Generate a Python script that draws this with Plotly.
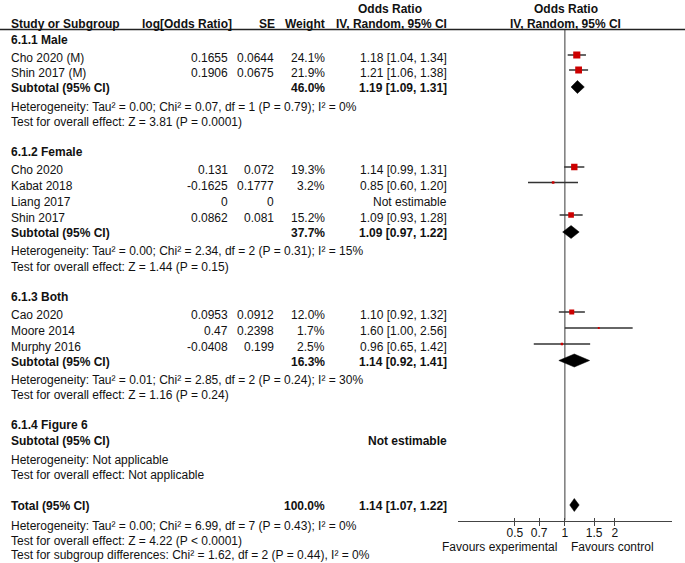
import plotly.graph_objects as go
import math

# ---------------- data ----------------
study_names = ["Cho 2020 (M)", "Shin 2017 (M)", "Cho 2020", "Kabat 2018", "Liang 2017",
               "Shin 2017", "Cao 2020", "Moore 2014", "Murphy 2016"]
study_group = [0, 0, 1, 1, 1, 1, 2, 2, 2]
log_or = [0.1655, 0.1906, 0.131, -0.1625, 0, 0.0862, 0.0953, 0.47, -0.0408]
se_vals = [0.0644, 0.0675, 0.072, 0.1777, 0, 0.081, 0.0912, 0.2398, 0.199]
weights = [24.1, 21.9, 19.3, 3.2, None, 15.2, 12.0, 1.7, 2.5]
or_est = [1.18, 1.21, 1.14, 0.85, None, 1.09, 1.10, 1.60, 0.96]
or_lo = [1.04, 1.06, 0.99, 0.60, None, 0.93, 0.92, 1.00, 0.65]
or_hi = [1.34, 1.38, 1.31, 1.20, None, 1.28, 1.32, 2.56, 1.42]

group_names = ["6.1.1 Male", "6.1.2 Female", "6.1.3 Both", "6.1.4 Figure 6"]
sub_weight = [46.0, 37.7, 16.3, None]
sub_est = [1.19, 1.09, 1.14, None]
sub_lo = [1.09, 0.97, 0.92, None]
sub_hi = [1.31, 1.22, 1.41, None]
sub_het = [
    "Heterogeneity: Tau² = 0.00; Chi² = 0.07, df = 1 (P = 0.79); I² = 0%",
    "Heterogeneity: Tau² = 0.00; Chi² = 2.34, df = 2 (P = 0.31); I² = 15%",
    "Heterogeneity: Tau² = 0.01; Chi² = 2.85, df = 2 (P = 0.24); I² = 30%",
    "Heterogeneity: Not applicable",
]
sub_test = [
    "Test for overall effect: Z = 3.81 (P = 0.0001)",
    "Test for overall effect: Z = 1.44 (P = 0.15)",
    "Test for overall effect: Z = 1.16 (P = 0.24)",
    "Test for overall effect: Not applicable",
]
total_weight = 100.0
total_est, total_lo, total_hi = 1.14, 1.07, 1.22
total_notes = [
    "Heterogeneity: Tau² = 0.00; Chi² = 6.99, df = 7 (P = 0.43); I² = 0%",
    "Test for overall effect: Z = 4.22 (P < 0.0001)",
    "Test for subgroup differences: Chi² = 1.62, df = 2 (P = 0.44), I² = 0%",
]
tick_vals = [0.5, 0.7, 1, 1.5, 2]
tick_text = ["0.5", "0.7", "1", "1.5", "2"]

# ---------------- layout constants (pixels) ----------------
W, H = 685, 563
FONT = "Arial, Liberation Sans, sans-serif"
TXT = "#111111"
AXIS_Y = 520.5
AX_L, AX_R = 458.0, 671.7
X_STUDY, X_LOGOR, X_SE, X_W, X_CI = 11, 228, 274, 325, 447
group_rows = [  # heading, study rows, subtotal, het, test
    (40, [58, 73], 88, 106.5, 122),
    (152, [170, 185.5, 202, 218], 233, 251, 266.5),
    (297, [315, 331, 347], 361.5, 380, 394.5),
    (425, [], 441, 459.5, 475),
]
TOTAL_Y = 506
TOTAL_NOTE_Y = [526, 541, 555]

annotations = []


def txt(s, px, py, anchor="left", bold=False, size=12):
    annotations.append(dict(
        text=f"<b>{s}</b>" if bold else s, x=px / W, y=1 - py / H,
        xref="paper", yref="paper", xanchor=anchor, yanchor="middle",
        showarrow=False, borderpad=0, borderwidth=0,
        font=dict(size=size, family=FONT, color=TXT)))


def fmt_ci(e, lo, hi):
    return f"{e:.2f} [{lo:.2f}, {hi:.2f}]"


# headers
txt("Study or Subgroup", X_STUDY, 23.5, bold=True)
txt("log[Odds Ratio]", 232, 23.5, "right", bold=True)
txt("SE", 275, 23.5, "right", bold=True)
txt("Weight", X_W, 23.5, "right", bold=True)
txt("Odds Ratio", 390, 8.5, "center", bold=True)
txt("IV, Random, 95% CI", 392, 23.5, "center", bold=True)
txt("Odds Ratio", 565.5, 8.5, "center", bold=True)
txt("IV, Random, 95% CI", 565.5, 23.5, "center", bold=True)

fig = go.Figure()

study_rows_y = []
idx = 0
for g, (hy, srows, suby, hety, testy) in enumerate(group_rows):
    txt(group_names[g], X_STUDY, hy, bold=True)
    for ry in srows:
        i = idx
        study_rows_y.append(ry)
        txt(study_names[i], X_STUDY, ry)
        txt(f"{log_or[i]:g}", X_LOGOR, ry, "right")
        txt(f"{se_vals[i]:g}", X_SE, ry, "right")
        if weights[i] is not None:
            txt(f"{weights[i]:.1f}%", X_W, ry, "right")
            txt(fmt_ci(or_est[i], or_lo[i], or_hi[i]), X_CI, ry, "right")
        else:
            txt("Not estimable", X_CI, ry, "right")
        idx += 1
    txt("Subtotal (95% CI)", X_STUDY, suby, bold=True)
    if sub_weight[g] is not None:
        txt(f"{sub_weight[g]:.1f}%", X_W, suby, "right", bold=True)
        txt(fmt_ci(sub_est[g], sub_lo[g], sub_hi[g]), X_CI, suby, "right", bold=True)
    else:
        txt("Not estimable", X_CI, suby, "right", bold=True)
    txt(sub_het[g], X_STUDY, hety)
    txt(sub_test[g], X_STUDY, testy)

txt("Total (95% CI)", X_STUDY, TOTAL_Y, bold=True)
txt(f"{total_weight:.1f}%", X_W, TOTAL_Y, "right", bold=True)
txt(fmt_ci(total_est, total_lo, total_hi), X_CI, TOTAL_Y, "right", bold=True)
for s, py in zip(total_notes, TOTAL_NOTE_Y):
    txt(s, X_STUDY, py)
txt("Favours experimental", 557, 547, "right")
txt("Favours control", 571, 547, "left")

# study CI lines and squares
for i, ry in enumerate(study_rows_y):
    if weights[i] is None:
        continue
    my = ry - 3
    fig.add_trace(go.Scatter(x=[or_lo[i], or_hi[i]], y=[my, my], mode="lines",
                             line=dict(color="#333333", width=1.3),
                             hoverinfo="skip", showlegend=False))
    fig.add_trace(go.Scatter(x=[or_est[i]], y=[my], mode="markers",
                             marker=dict(symbol="square", color="#cc0000",
                                         size=1.45 * math.sqrt(weights[i]), line=dict(width=0)),
                             hoverinfo="skip", showlegend=False))


def diamond(e, lo, hi, cy, h=6.5):
    fig.add_trace(go.Scatter(x=[lo, e, hi, e, lo], y=[cy, cy - h, cy, cy + h, cy],
                             mode="lines", fill="toself", fillcolor="black",
                             line=dict(color="black", width=0.5),
                             hoverinfo="skip", showlegend=False))


for g, (hy, srows, suby, hety, testy) in enumerate(group_rows):
    if sub_est[g] is not None:
        diamond(sub_est[g], sub_lo[g], sub_hi[g], suby - 1)
diamond(total_est, total_lo, total_hi, TOTAL_Y - 1)

r = (AX_R - AX_L) / 2 / 166.1
dom = [AX_L / W, AX_R / W]
fig.update_layout(
    width=W, height=H, margin=dict(l=0, r=0, t=0, b=0),
    paper_bgcolor="white", plot_bgcolor="white",
    showlegend=False,
    annotations=annotations,
    xaxis=dict(type="log", domain=dom, range=[-r, r], showgrid=False, zeroline=False,
               showline=True, linecolor="#444444", linewidth=1.3,
               ticks="outside", ticklen=4, tickwidth=1.3, tickcolor="#444444",
               tickvals=tick_vals, ticktext=tick_text, ticklabelstandoff=-3,
               tickfont=dict(size=12, family=FONT, color=TXT), anchor="y"),
    xaxis2=dict(type="log", domain=dom, range=[-r, r], overlaying="x", anchor="y",
                showgrid=False, zeroline=False, showline=False,
                ticks="inside", ticklen=3, tickwidth=1.3, tickcolor="#444444",
                tickvals=tick_vals, showticklabels=False, side="bottom"),
    yaxis=dict(domain=[(H - AXIS_Y) / H, 1], range=[AXIS_Y, 0], visible=False),
    shapes=[
        dict(type="line", xref="paper", yref="y", x0=0, x1=1, y0=29.5, y1=29.5,
             line=dict(color="#222222", width=1.3)),
        dict(type="line", xref="x", yref="y", x0=1, x1=1, y0=29.5, y1=AXIS_Y,
             line=dict(color="#666666", width=1.3), layer="below"),
    ],
)
# dummy trace so xaxis2 renders
fig.add_trace(go.Scatter(x=[1], y=[-100], xaxis="x2", mode="markers",
                         marker=dict(opacity=0), hoverinfo="skip", showlegend=False))

fig.write_html("out.html", config={"displayModeBar": False},
               post_script="document.body.style.margin='0';document.body.style.overflow='hidden';")
